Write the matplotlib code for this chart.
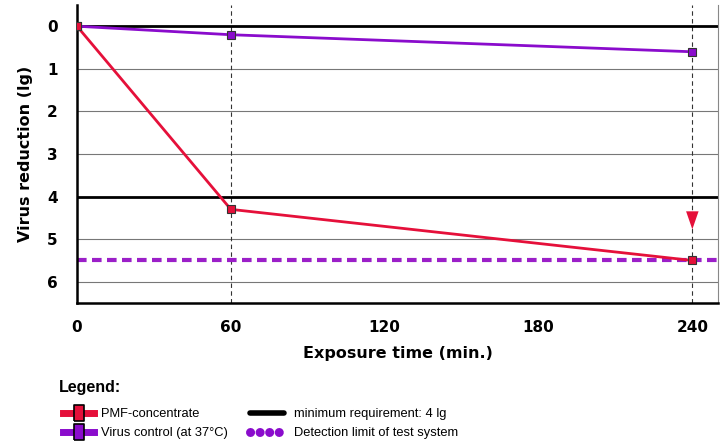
import matplotlib.pyplot as plt
from matplotlib.lines import Line2D

# data
times = [0, 60, 240]
pmf = [0, 4.3, 5.5]
control = [0, 0.2, 0.6]
min_req = 4
detect_lim = 5.5
xticks = [0, 60, 120, 180, 240]
yticks = [0, 1, 2, 3, 4, 5, 6]

red = '#e5103a'
purple = '#8a0ccc'

fig = plt.figure(figsize=(7.21, 4.47), dpi=100)
ax = fig.add_axes([0.1068, 0.322, 0.889, 0.667])

ax.set_xlim(0, 250)
ax.set_ylim(6.5, -0.5)

# grid
for y in yticks:
    if y in (0, min_req):
        continue
    ax.axhline(y, color='#777777', lw=0.8, zorder=1)
ax.axhline(0, color='black', lw=2, zorder=2)
ax.axhline(min_req, color='black', lw=2, zorder=2)
for x in (60, 240):
    ax.axvline(x, color='#333333', lw=0.8, ls=(0, (4, 3)), zorder=1)

ax.axhline(detect_lim, color='#9b1fc8', lw=3, ls=(0, (2.3, 1.3)), zorder=2)

ax.plot(times, control, color=purple, lw=2, marker='s', ms=6,
        mfc=purple, mec='#333333', mew=0.8, zorder=4)
ax.plot(times, pmf, color=red, lw=2, marker='s', ms=6,
        mfc=red, mec='#333333', mew=0.8, zorder=4)

ax.annotate('', xy=(240, 4.77), xytext=(240, 4.2),
            arrowprops=dict(arrowstyle='-|>,head_width=0.45,head_length=1.3',
                            color=red, lw=0, shrinkA=0, shrinkB=0), zorder=5)

ax.set_xticks(xticks)
ax.set_yticks(yticks)
ax.tick_params(length=0, labelsize=11, pad=12)
for lab in ax.get_xticklabels() + ax.get_yticklabels():
    lab.set_fontweight('bold')
ax.tick_params(axis='y', pad=14)

ax.spines['top'].set_visible(False)
ax.spines['right'].set_color('#888888')
ax.spines['right'].set_linewidth(0.8)
ax.spines['left'].set_linewidth(1.8)
ax.spines['bottom'].set_linewidth(1.8)

ax.set_xlabel('Exposure time (min.)', fontsize=11.5, fontweight='bold', labelpad=8)
ax.set_ylabel('Virus reduction (lg)', fontsize=11.5, fontweight='bold', labelpad=10)

# legend block
fig.text(0.081, 0.133, 'Legend:', fontsize=11.5, fontweight='bold', va='center',
         family=['Liberation Sans', 'DejaVu Sans'])
rect = [(-0.32, -0.5), (0.32, -0.5), (0.32, 0.5), (-0.32, 0.5), (-0.32, -0.5)]
leg_font = dict(family=['Liberation Sans', 'DejaVu Sans'], size=9.3)
h1 = [
    Line2D([], [], color=red, lw=5, marker=rect, ms=12, mfc=red, mec='black', mew=1.2),
    Line2D([], [], color=purple, lw=5, marker=rect, ms=12, mfc=purple, mec='black', mew=1.2),
]
h2 = [
    Line2D([], [], color='black', lw=4, solid_capstyle='round'),
    Line2D([], [], color=purple, lw=6.5, ls=(0, (0.01, 1.05)), dash_capstyle='round'),
]
leg1 = fig.legend(h1, ['PMF-concentrate', 'Virus control (at 37°C)'],
                  loc='upper left', bbox_to_anchor=(63 / 721, 1 - 408 / 447),
                  frameon=False, prop=leg_font, handlelength=2.4, handletextpad=0.55,
                  labelspacing=0.55, borderpad=0, borderaxespad=0)
leg2 = fig.legend(h2, ['minimum requirement: 4 lg', 'Detection limit of test system'],
                  loc='upper left', bbox_to_anchor=(250 / 721, 1 - 408 / 447),
                  frameon=False, prop=leg_font, handlelength=2.6, handletextpad=0.8,
                  labelspacing=0.55, borderpad=0, borderaxespad=0)

plt.savefig('out.png', dpi=100)
